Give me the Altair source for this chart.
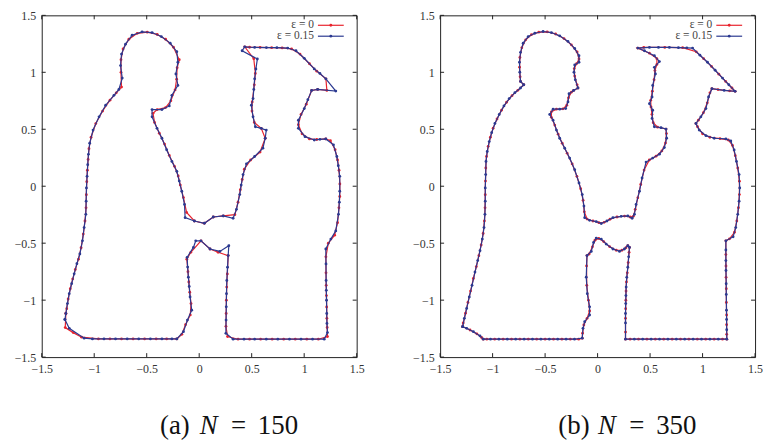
import altair as alt
import pandas as pd

TICKS = [-1.5, -1.0, -0.5, 0.0, 0.5, 1.0, 1.5]
SERIES = ["ε = 0", "ε = 0.15"]
COLORS = ["#e8232d", "#2b3990"]
CAPTION_A = ["(a)", "N", "=", "150"]
CAPTION_B = ["(b)", "N", "=", "350"]

# panel (a), N = 150, epsilon = 0.15 (blue)
A_BLUE = [
    (-1.279, -1.169), (-1.238, -1.247), (-1.096, -1.334), (-1.017, -1.340), (-0.907, -1.340), (-0.797, -1.340),
    (-0.686, -1.340), (-0.576, -1.340), (-0.465, -1.340), (-0.355, -1.340), (-0.260, -1.340), (-0.213, -1.340),
    (-0.150, -1.277), (-0.112, -1.175), (-0.071, -1.088), (-0.087, -0.972), (-0.095, -0.880), (-0.103, -0.798),
    (-0.110, -0.710), (-0.115, -0.624), (-0.055, -0.537), (-0.033, -0.479), (0.017, -0.479), (0.103, -0.551),
    (0.197, -0.572), (0.282, -0.522), (0.276, -0.609), (0.270, -0.711), (0.263, -0.827), (0.260, -0.943),
    (0.258, -1.059), (0.256, -1.175), (0.254, -1.291), (0.323, -1.343), (0.427, -1.343), (0.528, -1.343),
    (0.639, -1.343), (0.749, -1.343), (0.860, -1.343), (0.970, -1.343), (1.080, -1.343), (1.191, -1.343),
    (1.222, -1.285), (1.217, -1.204), (1.215, -1.117), (1.213, -1.001), (1.211, -0.914), (1.209, -0.827),
    (1.208, -0.682), (1.206, -0.551), (1.254, -0.464), (1.301, -0.392), (1.327, -0.247), (1.335, -0.140),
    (1.339, -0.044), (1.339, 0.087), (1.325, 0.180), (1.311, 0.261), (1.279, 0.363), (1.206, 0.415),
    (1.150, 0.412), (1.096, 0.406), (1.008, 0.435), (0.945, 0.508), (0.945, 0.580), (1.001, 0.682),
    (1.035, 0.760), (1.071, 0.841), (1.128, 0.850), (1.301, 0.835), (1.207, 0.943), (1.150, 0.990),
    (1.096, 1.030), (1.001, 1.123), (0.922, 1.189), (0.843, 1.213), (0.740, 1.216), (0.640, 1.217),
    (0.528, 1.218), (0.434, 1.224), (0.409, 1.189), (0.554, 1.117), (0.540, 1.030), (0.528, 0.943),
    (0.520, 0.850), (0.513, 0.769), (0.497, 0.711), (0.513, 0.609), (0.535, 0.522), (0.591, 0.508),
    (0.639, 0.493), (0.629, 0.421), (0.607, 0.334), (0.528, 0.261), (0.450, 0.197), (0.418, 0.102),
    (0.400, 0.010), (0.386, -0.073), (0.355, -0.203), (0.323, -0.281), (0.229, -0.261), (0.134, -0.270),
    (0.049, -0.325), (-0.046, -0.305), (-0.134, -0.276), (-0.140, -0.160), (-0.166, -0.044), (-0.190, 0.045),
    (-0.213, 0.131), (-0.260, 0.218), (-0.310, 0.320), (-0.355, 0.421), (-0.402, 0.508), (-0.449, 0.609),
    (-0.449, 0.673), (-0.355, 0.673), (-0.285, 0.705), (-0.260, 0.798), (-0.203, 0.885), (-0.222, 0.986),
    (-0.203, 1.088), (-0.213, 1.181), (-0.276, 1.256), (-0.361, 1.314), (-0.449, 1.349), (-0.544, 1.355),
    (-0.639, 1.326), (-0.702, 1.247), (-0.740, 1.160), (-0.749, 1.059), (-0.733, 0.949), (-0.765, 0.850),
    (-0.812, 0.798), (-0.891, 0.711), (-0.954, 0.609), (-1.011, 0.493), (-1.043, 0.377), (-1.055, 0.280),
    (-1.062, 0.189), (-1.068, 0.087), (-1.074, -0.015), (-1.077, -0.131), (-1.080, -0.247), (-1.096, -0.363),
    (-1.112, -0.479), (-1.137, -0.595), (-1.165, -0.680), (-1.191, -0.769), (-1.215, -0.855), (-1.238, -0.943),
    (-1.255, -1.030), (-1.270, -1.117), (-1.279, -1.169),
]

# panel (a), N = 150, epsilon = 0 (red)
A_RED = [
    (-1.270, -1.117), (-1.276, -1.241), (-1.200, -1.285), (-1.120, -1.325), (-0.960, -1.340), (-0.850, -1.340),
    (-0.740, -1.340), (-0.630, -1.340), (-0.520, -1.340), (-0.410, -1.340), (-0.310, -1.340), (-0.213, -1.340),
    (-0.165, -1.300), (-0.130, -1.215), (-0.085, -1.130), (-0.078, -1.030), (-0.090, -0.930), (-0.099, -0.840),
    (-0.107, -0.750), (-0.118, -0.640), (-0.080, -0.580), (0.017, -0.479), (0.103, -0.551), (0.180, -0.580),
    (0.276, -0.609), (0.268, -0.770), (0.262, -0.885), (0.259, -1.000), (0.257, -1.117), (0.255, -1.230),
    (0.270, -1.320), (0.370, -1.343), (0.480, -1.343), (0.585, -1.343), (0.695, -1.343), (0.805, -1.343),
    (0.915, -1.343), (1.025, -1.343), (1.135, -1.343), (1.222, -1.320), (1.219, -1.240), (1.216, -1.160),
    (1.214, -1.060), (1.212, -0.960), (1.210, -0.870), (1.208, -0.760), (1.207, -0.620), (1.230, -0.500),
    (1.290, -0.430), (1.318, -0.320), (1.331, -0.190), (1.339, -0.090), (1.340, 0.020), (1.332, 0.140),
    (1.318, 0.230), (1.295, 0.320), (1.250, 0.400), (1.206, 0.415), (1.120, 0.410), (1.050, 0.415),
    (0.980, 0.460), (0.945, 0.540), (0.970, 0.630), (1.020, 0.720), (1.071, 0.841), (1.128, 0.850),
    (1.216, 0.841), (1.207, 0.943), (1.120, 1.010), (1.050, 1.075), (0.960, 1.160), (0.880, 1.205),
    (0.790, 1.214), (0.690, 1.216), (0.580, 1.218), (0.480, 1.220), (0.434, 1.224), (0.520, 1.120),
    (0.535, 0.990), (0.525, 0.890), (0.505, 0.740), (0.503, 0.660), (0.525, 0.560), (0.591, 0.508),
    (0.629, 0.421), (0.580, 0.300), (0.490, 0.230), (0.430, 0.150), (0.410, 0.060), (0.392, -0.030),
    (0.370, -0.140), (0.340, -0.250), (0.229, -0.261), (0.134, -0.270), (0.049, -0.325), (-0.046, -0.305),
    (-0.120, -0.230), (-0.150, -0.100), (-0.180, 0.010), (-0.200, 0.090), (-0.235, 0.175), (-0.285, 0.270),
    (-0.330, 0.370), (-0.380, 0.465), (-0.425, 0.560), (-0.440, 0.640), (-0.400, 0.673), (-0.320, 0.690),
    (-0.270, 0.750), (-0.230, 0.845), (-0.215, 0.940), (-0.210, 1.040), (-0.190, 1.110), (-0.245, 1.220),
    (-0.320, 1.290), (-0.400, 1.332), (-0.495, 1.352), (-0.590, 1.342), (-0.670, 1.290), (-0.725, 1.205),
    (-0.745, 1.110), (-0.745, 1.000), (-0.740, 0.870), (-0.790, 0.820), (-0.850, 0.755), (-0.920, 0.660),
    (-0.985, 0.550), (-1.030, 0.430), (-1.050, 0.330), (-1.058, 0.235), (-1.065, 0.140), (-1.071, 0.040),
    (-1.075, -0.075), (-1.078, -0.190), (-1.088, -0.305), (-1.104, -0.420), (-1.125, -0.540), (-1.150, -0.640),
    (-1.180, -0.730), (-1.205, -0.815), (-1.228, -0.900), (-1.248, -0.990), (-1.262, -1.075), (-1.270, -1.117),
]

# panel (b), N = 350, epsilon = 0.15 (blue)
B_BLUE = [
    (-1.285, -1.233), (-1.269, -1.160), (-1.247, -1.073), (-1.222, -0.972), (-1.196, -0.870), (-1.168, -0.754),
    (-1.142, -0.653), (-1.120, -0.566), (-1.098, -0.464), (-1.082, -0.363), (-1.073, -0.247), (-1.070, -0.131),
    (-1.070, -0.015), (-1.066, 0.102), (-1.063, 0.218), (-1.051, 0.305), (-1.032, 0.392), (-1.009, 0.470),
    (-0.978, 0.551), (-0.937, 0.630), (-0.892, 0.705), (-0.842, 0.769), (-0.788, 0.821), (-0.734, 0.862),
    (-0.703, 0.891), (-0.734, 0.920), (-0.741, 1.001), (-0.744, 1.088), (-0.734, 1.175), (-0.709, 1.256),
    (-0.661, 1.314), (-0.598, 1.343), (-0.519, 1.358), (-0.440, 1.349), (-0.361, 1.320), (-0.282, 1.271),
    (-0.218, 1.210), (-0.177, 1.146), (-0.177, 1.088), (-0.218, 1.065), (-0.225, 1.001), (-0.212, 0.934),
    (-0.187, 0.862), (-0.228, 0.841), (-0.272, 0.812), (-0.282, 0.740), (-0.304, 0.682), (-0.361, 0.676),
    (-0.424, 0.676), (-0.456, 0.630), (-0.424, 0.580), (-0.392, 0.493), (-0.361, 0.421), (-0.313, 0.334),
    (-0.266, 0.247), (-0.218, 0.145), (-0.177, 0.029), (-0.146, -0.073), (-0.130, -0.174), (-0.123, -0.276),
    (-0.076, -0.299), (-0.013, -0.310), (0.035, -0.328), (0.089, -0.305), (0.146, -0.276), (0.225, -0.264),
    (0.288, -0.261), (0.329, -0.281), (0.351, -0.247), (0.367, -0.160), (0.399, -0.044), (0.424, 0.073),
    (0.462, 0.212), (0.525, 0.247), (0.589, 0.281), (0.636, 0.339), (0.658, 0.421), (0.652, 0.502),
    (0.604, 0.514), (0.541, 0.522), (0.519, 0.595), (0.525, 0.667), (0.494, 0.725), (0.519, 0.783),
    (0.525, 0.885), (0.551, 0.986), (0.541, 1.044), (0.589, 1.094), (0.541, 1.146), (0.446, 1.189),
    (0.383, 1.213), (0.494, 1.218), (0.580, 1.218), (0.684, 1.218), (0.770, 1.216), (0.850, 1.215),
    (0.905, 1.213), (0.975, 1.150), (1.047, 1.088), (1.120, 1.018), (1.190, 0.949), (1.250, 0.891),
    (1.310, 0.833), (1.206, 0.841), (1.089, 0.856), (1.057, 0.783), (1.032, 0.682), (0.984, 0.609),
    (0.937, 0.551), (0.968, 0.493), (1.032, 0.444), (1.111, 0.421), (1.222, 0.415), (1.269, 0.397),
    (1.301, 0.319), (1.323, 0.218), (1.348, 0.102), (1.354, -0.015), (1.348, -0.131), (1.335, -0.247),
    (1.316, -0.363), (1.291, -0.444), (1.222, -0.479), (1.222, -0.560), (1.222, -0.653), (1.223, -0.740),
    (1.225, -0.856), (1.226, -0.950), (1.228, -1.088), (1.229, -1.170), (1.230, -1.260), (1.231, -1.343),
    (1.150, -1.343), (1.070, -1.343), (0.990, -1.343), (0.910, -1.343), (0.830, -1.343), (0.750, -1.343),
    (0.670, -1.343), (0.590, -1.343), (0.510, -1.343), (0.430, -1.343), (0.350, -1.343), (0.266, -1.343),
    (0.266, -1.200), (0.266, -1.117), (0.268, -1.030), (0.270, -0.960), (0.272, -0.885), (0.278, -0.800),
    (0.288, -0.711), (0.296, -0.620), (0.304, -0.537), (0.288, -0.522), (0.256, -0.551), (0.209, -0.572),
    (0.146, -0.551), (0.082, -0.508), (0.035, -0.464), (-0.013, -0.455), (-0.038, -0.493), (-0.060, -0.572),
    (-0.101, -0.609), (-0.108, -0.798), (-0.098, -0.943), (-0.076, -1.059), (-0.076, -1.131), (-0.123, -1.189),
    (-0.139, -1.247), (-0.146, -1.334), (-0.220, -1.343), (-0.300, -1.343), (-0.380, -1.343), (-0.460, -1.343),
    (-0.540, -1.343), (-0.620, -1.343), (-0.700, -1.343), (-0.780, -1.343), (-0.860, -1.343), (-0.940, -1.343),
    (-1.020, -1.343), (-1.089, -1.343), (-1.120, -1.314), (-1.183, -1.277), (-1.247, -1.247), (-1.285, -1.233),
]

# panel (b), N = 350, epsilon = 0 (red)
B_RED = [
    (-1.285, -1.233), (-1.280, -1.200), (-1.258, -1.115), (-1.235, -1.020), (-1.210, -0.920), (-1.183, -0.810),
    (-1.155, -0.705), (-1.131, -0.610), (-1.109, -0.515), (-1.090, -0.415), (-1.078, -0.305), (-1.072, -0.190),
    (-1.070, -0.075), (-1.068, 0.045), (-1.065, 0.160), (-1.058, 0.262), (-1.042, 0.350), (-1.021, 0.431),
    (-0.995, 0.510), (-0.958, 0.590), (-0.915, 0.668), (-0.867, 0.737), (-0.815, 0.795), (-0.760, 0.842),
    (-0.703, 0.891), (-0.734, 0.920), (-0.738, 0.960), (-0.743, 1.045), (-0.740, 1.130), (-0.722, 1.215),
    (-0.685, 1.285), (-0.630, 1.330), (-0.560, 1.352), (-0.480, 1.355), (-0.400, 1.336), (-0.320, 1.296),
    (-0.250, 1.241), (-0.195, 1.178), (-0.177, 1.117), (-0.200, 1.076), (-0.222, 1.033), (-0.218, 0.967),
    (-0.195, 0.890), (-0.187, 0.862), (-0.228, 0.841), (-0.250, 0.826), (-0.277, 0.776), (-0.293, 0.711),
    (-0.330, 0.679), (-0.392, 0.676), (-0.440, 0.653), (-0.440, 0.605), (-0.408, 0.537), (-0.376, 0.457),
    (-0.337, 0.377), (-0.290, 0.290), (-0.242, 0.196), (-0.197, 0.087), (-0.161, -0.022), (-0.138, -0.124),
    (-0.126, -0.225), (-0.100, -0.288), (-0.044, -0.305), (0.012, -0.320), (0.062, -0.317), (0.118, -0.290),
    (0.185, -0.270), (0.257, -0.262), (0.310, -0.270), (0.340, -0.264), (0.359, -0.203), (0.383, -0.102),
    (0.411, 0.015), (0.443, 0.142), (0.493, 0.230), (0.557, 0.264), (0.612, 0.310), (0.647, 0.380),
    (0.656, 0.462), (0.652, 0.502), (0.572, 0.518), (0.530, 0.558), (0.518, 0.631), (0.509, 0.696),
    (0.506, 0.754), (0.522, 0.834), (0.538, 0.935), (0.546, 1.015), (0.565, 1.069), (0.565, 1.120),
    (0.494, 1.168), (0.383, 1.213), (0.440, 1.218), (0.640, 1.218), (0.810, 1.216), (0.940, 1.180),
    (1.010, 1.120), (1.085, 1.052), (1.155, 0.984), (1.220, 0.920), (1.280, 0.862), (1.310, 0.833),
    (1.258, 0.837), (1.147, 0.848), (1.089, 0.856), (1.070, 0.820), (1.045, 0.732), (1.008, 0.645),
    (0.960, 0.580), (0.937, 0.551), (0.952, 0.522), (1.000, 0.460), (1.070, 0.430), (1.166, 0.418),
    (1.245, 0.406), (1.285, 0.358), (1.312, 0.268), (1.335, 0.160), (1.351, 0.044), (1.351, -0.073),
    (1.342, -0.189), (1.326, -0.305), (1.304, -0.404), (1.257, -0.462), (1.222, -0.479), (1.222, -0.600),
    (1.223, -0.700), (1.224, -0.800), (1.226, -0.900), (1.227, -1.020), (1.229, -1.130), (1.229, -1.215),
    (1.230, -1.300), (1.231, -1.343), (1.190, -1.343), (1.110, -1.343), (1.030, -1.343), (0.950, -1.343),
    (0.870, -1.343), (0.790, -1.343), (0.710, -1.343), (0.630, -1.343), (0.550, -1.343), (0.470, -1.343),
    (0.390, -1.343), (0.310, -1.343), (0.266, -1.343), (0.266, -1.280), (0.266, -1.160), (0.267, -1.075),
    (0.269, -1.000), (0.271, -0.920), (0.275, -0.840), (0.283, -0.760), (0.292, -0.670), (0.300, -0.580),
    (0.304, -0.537), (0.288, -0.522), (0.270, -0.540), (0.232, -0.562), (0.178, -0.562), (0.114, -0.530),
    (0.058, -0.486), (0.011, -0.458), (-0.025, -0.474), (-0.049, -0.532), (-0.080, -0.595), (-0.101, -0.609),
    (-0.105, -0.700), (-0.103, -0.870), (-0.087, -1.000), (-0.076, -1.095), (-0.100, -1.160), (-0.131, -1.218),
    (-0.143, -1.290), (-0.146, -1.334), (-0.180, -1.343), (-0.260, -1.343), (-0.340, -1.343), (-0.420, -1.343),
    (-0.500, -1.343), (-0.580, -1.343), (-0.660, -1.343), (-0.740, -1.343), (-0.820, -1.343), (-0.900, -1.343),
    (-0.980, -1.343), (-1.055, -1.343), (-1.089, -1.343), (-1.105, -1.328), (-1.150, -1.296), (-1.215, -1.262),
    (-1.285, -1.233),
]

W, H = 317, 344
FONT = "'Liberation Serif', 'Times New Roman', serif"
LABEL_COLOR = "#333333"
FRAME = "#222222"


def to_frame(points):
    return pd.DataFrame({
        "x": [p[0] for p in points],
        "y": [p[1] for p in points],
        "i": list(range(len(points))),
    })


def panel(red, blue, caption):
    xs = alt.Scale(domain=[-1.5, 1.5], nice=False, zero=False)
    ys = alt.Scale(domain=[-1.5, 1.5], nice=False, zero=False)
    xaxis = alt.Axis(values=TICKS, format="~f", labelFont=FONT, labelFontSize=12,
                     labelColor=LABEL_COLOR, ticks=False, domain=False, grid=False,
                     title="", labelPadding=7, labelFlush=False, labelOverlap=False)
    yaxis = alt.Axis(values=TICKS, format="~f", labelFont=FONT, labelFontSize=12,
                     labelColor=LABEL_COLOR, ticks=False, domain=False, grid=False,
                     title="", labelPadding=6, labelFlush=False, labelOverlap=False)

    def X(f):
        return alt.X(f, scale=xs, axis=xaxis)

    def Y(f):
        return alt.Y(f, scale=ys, axis=yaxis)

    layers = []
    for pts, color in ((red, COLORS[0]), (blue, COLORS[1])):
        base = alt.Chart(to_frame(pts))
        layers.append(base.mark_line(color=color, strokeWidth=1.2).encode(
            x=X("x:Q"), y=Y("y:Q"), order="i:Q"))
        layers.append(base.mark_circle(color=color, size=8, opacity=1).encode(
            x=X("x:Q"), y=Y("y:Q")))

    tk = alt.Chart(pd.DataFrame({"v": TICKS}))
    layers += [
        tk.mark_rule(color=FRAME, strokeWidth=1).encode(x=X("v:Q"), y=alt.value(H), y2=alt.value(H - 4)),
        tk.mark_rule(color=FRAME, strokeWidth=1).encode(x=X("v:Q"), y=alt.value(0), y2=alt.value(4)),
        tk.mark_rule(color=FRAME, strokeWidth=1).encode(y=Y("v:Q"), x=alt.value(0), x2=alt.value(4)),
        tk.mark_rule(color=FRAME, strokeWidth=1).encode(y=Y("v:Q"), x=alt.value(W), x2=alt.value(W - 4)),
    ]

    # legend (gnuplot style: text, then line sample)
    for k, (name, color) in enumerate(zip(SERIES, COLORS)):
        yk = 10 + 11 * k
        lc = alt.Chart(pd.DataFrame({"t": [name]}))
        layers += [
            lc.mark_text(align="right", baseline="middle", font=FONT, fontSize=11.5,
                         color="#444444").encode(text="t:N", x=alt.value(274), y=alt.value(yk)),
            lc.mark_rule(color=color, strokeWidth=1.2).encode(
                x=alt.value(278), x2=alt.value(304), y=alt.value(yk)),
            lc.mark_circle(color=color, size=8, opacity=1).encode(
                x=alt.value(291), y=alt.value(yk)),
        ]

    # caption below the panel
    cap_pos = [(119, "left", "normal"), (159, "left", "italic"), (198, "center", "normal"), (258, "right", "normal")]
    for txt, (px, al, st) in zip(caption, cap_pos):
        layers.append(
            alt.Chart(pd.DataFrame({"t": [txt]})).mark_text(
                align=al, baseline="alphabetic", font=FONT, fontSize=27,
                fontStyle=st, color="#111111").encode(
                text="t:N", x=alt.value(px), y=alt.value(421)))

    return alt.layer(*layers).properties(width=W, height=H)


pa = panel(A_RED, A_BLUE, CAPTION_A)
pb = panel(B_RED, B_BLUE, CAPTION_B)

chart = alt.hconcat(pa, pb, spacing=84, bounds="flush").properties(
    padding={"left": 13, "top": 7, "right": 0, "bottom": 0}
).configure_view(stroke=FRAME, strokeWidth=1)

chart.save("out.html", embed_options={"renderer": "svg", "actions": False})
